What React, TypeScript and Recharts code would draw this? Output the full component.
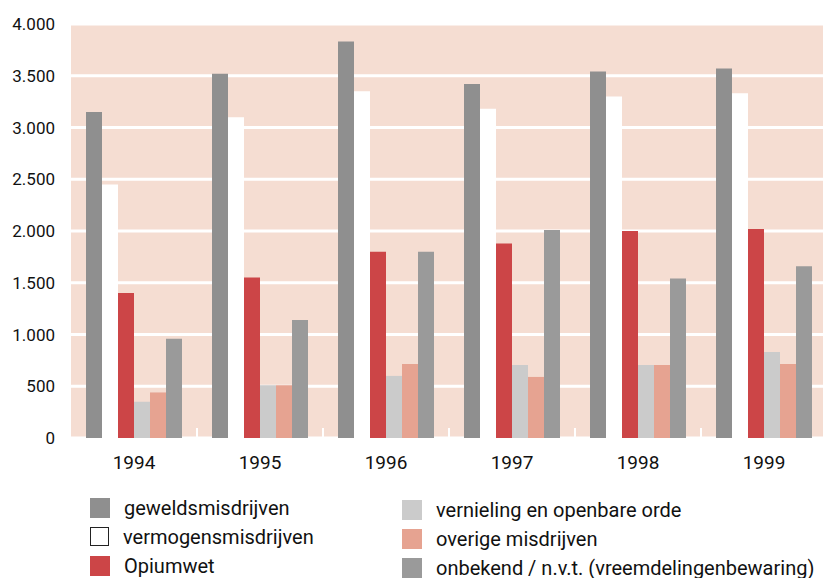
import React from 'react';
import { BarChart, Bar, XAxis, YAxis, CartesianGrid } from 'recharts';

const years = ['1994', '1995', '1996', '1997', '1998', '1999'];
const geweld = [3150, 3520, 3830, 3420, 3540, 3570];
const vermogen = [2450, 3100, 3350, 3180, 3300, 3330];
const opium = [1400, 1550, 1800, 1880, 2000, 2020];
const vernieling = [350, 510, 600, 705, 705, 830];
const overige = [440, 510, 715, 590, 705, 715];
const onbekend = [960, 1140, 1800, 2010, 1540, 1660];
const yTicks = [0, 500, 1000, 1500, 2000, 2500, 3000, 3500, 4000];

const COLORS = {
  geweld: '#8f8f8f',
  vermogen: '#ffffff',
  opium: '#cc4547',
  vernieling: '#cbcbcb',
  overige: '#e6a391',
  onbekend: '#9a9a9a',
  bg: '#f5ddd2'
};

const data = years.map((y, i) => ({
  year: y,
  geweld: geweld[i],
  vermogen: vermogen[i],
  opium: opium[i],
  vernieling: vernieling[i],
  overige: overige[i],
  onbekend: onbekend[i]
}));

const legendLeft = [
  { label: 'geweldsmisdrijven', color: COLORS.geweld },
  { label: 'vermogensmisdrijven', color: '#ffffff', border: true },
  { label: 'Opiumwet', color: COLORS.opium }
];
const legendRight = [
  { label: 'vernieling en openbare orde', color: COLORS.vernieling },
  { label: 'overige misdrijven', color: COLORS.overige },
  { label: 'onbekend / n.v.t. (vreemdelingenbewaring)', color: COLORS.onbekend }
];

const fmt = (v: number) => v.toLocaleString('de-DE');

const LABEL_GAP = 18;

// year label plus the small white mark at the left edge of each group (not the first)
const YearTick = (props: any) => {
  const { x, y, payload, index } = props;
  const half = payload && payload.offset ? payload.offset : 0;
  const base = y - LABEL_GAP;
  return (
    <g>
      {index > 0 && half > 0 && (
        <line x1={x - half} x2={x - half} y1={base} y2={base - 10} stroke="#ffffff" strokeWidth={2} />
      )}
      <text x={x} y={y} dy="0.71em" textAnchor="middle" fontSize={19} fill="#111">
        {payload.value}
      </text>
    </g>
  );
};

const LegendColumn = ({ items, left, top }: { items: any[]; left: number; top: number }) => (
  <div style={{ position: 'absolute', left, top }}>
    {items.map((it) => (
      <div key={it.label} style={{ display: 'flex', alignItems: 'center', height: 29 }}>
        <div style={{
          width: it.border ? 17 : 20,
          height: it.border ? 17 : 20,
          backgroundColor: it.color,
          border: it.border ? '1.5px solid #222' : 'none',
          marginRight: 14
        }} />
        <span style={{ fontSize: 20, color: '#111', whiteSpace: 'nowrap' }}>{it.label}</span>
      </div>
    ))}
  </div>
);

export default function App() {
  return (
    <div style={{
      position: 'absolute', left: 0, top: 0, width: 823, height: 578,
      overflow: 'hidden', background: '#fff', fontFamily: 'Roboto, sans-serif'
    }}>
      <BarChart
        width={830}
        height={578}
        data={data}
        margin={{ top: 24, right: 3, left: 0, bottom: 110 }}
        barCategoryGap={15}
        barGap={0}
      >
        <CartesianGrid vertical={false} stroke="#ffffff" strokeWidth={3} fill={COLORS.bg} />
        <XAxis
          dataKey="year"
          height={30}
          axisLine={false}
          tickLine={false}
          tickSize={0}
          tickMargin={LABEL_GAP}
          tick={<YearTick />}
        />
        <YAxis
          width={71}
          domain={[0, 4000]}
          ticks={yTicks}
          tickFormatter={fmt}
          axisLine={false}
          tickLine={false}
          tickSize={0}
          tickMargin={16}
          tick={{ fontSize: 17, fill: '#111' }}
        />
        <Bar dataKey="geweld" fill={COLORS.geweld} isAnimationActive={false} />
        <Bar dataKey="vermogen" fill={COLORS.vermogen} isAnimationActive={false} />
        <Bar dataKey="opium" fill={COLORS.opium} isAnimationActive={false} />
        <Bar dataKey="vernieling" fill={COLORS.vernieling} isAnimationActive={false} />
        <Bar dataKey="overige" fill={COLORS.overige} isAnimationActive={false} />
        <Bar dataKey="onbekend" fill={COLORS.onbekend} isAnimationActive={false} />
      </BarChart>
      <LegendColumn items={legendLeft} left={90} top={493} />
      <LegendColumn items={legendRight} left={402} top={495} />
    </div>
  );
}
